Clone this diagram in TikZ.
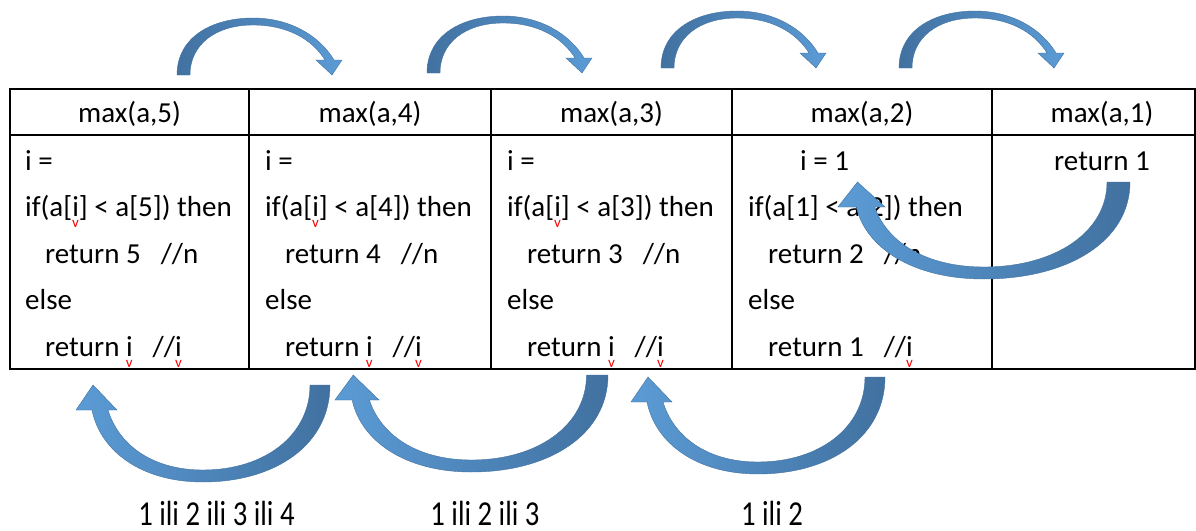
\documentclass[tikz,border=0pt]{standalone}
\usepackage{fontspec}
\usepackage{graphicx}
\setmainfont{Carlito}

\definecolor{arrowdark}{RGB}{65,113,160}
\definecolor{arrowlight}{RGB}{91,155,213}

% red spell-check mark under a word
\newsavebox\markbox
\newcommand\spellmark[1]{\sbox\markbox{#1}\rlap{\makebox[\wd\markbox]{\raisebox{-11pt}{\textcolor{red}{\fontsize{15}{15}\selectfont v}}}}\usebox\markbox}

\begin{document}
\begin{tikzpicture}[
    x=1pt,
    y=-1pt,
    font=\fontsize{29}{46.5}\selectfont,
    tabline/.style={draw, line width=1.5pt},
    head/.style={anchor=base, inner sep=0pt},
    code/.style={anchor=north west, align=left, inner sep=0pt},
    result/.style={anchor=base, inner sep=0pt, font=\fontsize{35}{35}\selectfont},
    toparrow/.style={left color=arrowdark, right color=arrowlight, draw=arrowdark, line width=0.4pt},
    backarrow/.style={left color=arrowlight, right color=arrowdark, draw=arrowdark, line width=0.4pt}
]
\useasboundingbox (0,0) rectangle (1196,530);

% ---------------- table ----------------
\draw[tabline] (10,89) rectangle (1195,369);
\draw[tabline] (10,135) -- (1195,135);
\foreach \x in {249,491,732,992}
    \draw[tabline] (\x,89) -- (\x,369);

% headers
\foreach \n/\x in {5/129.5, 4/370, 3/611.5, 2/862, 1/1102}
    \node[head] (h\n) at (\x,122) {max(a,\n)};

% bodies
\foreach \n/\x in {5/25, 4/265, 3/507}
    \node[code] (b\n) at (\x,137.5) {\strut i =\\
        if(a[\spellmark{i}] < a[\n]) then\\
        \hspace*{20pt}return \n\hspace{20pt}//n\\
        else\\
        \hspace*{20pt}return \spellmark{i}\hspace{20pt}//\spellmark{i}};

\node[code] (b2) at (748,137.5) {\strut\hspace*{52pt}i = 1\\
    if(a[1] < a[2]) then\\
    \hspace*{20pt}return 2\hspace{20pt}//n\\
    else\\
    \hspace*{20pt}return 1\hspace{20pt}//\spellmark{i}};
\node[head] (b1) at (1102,170) {return 1};

% ---------------- calls (top) ----------------
\foreach \x/\y in {177/75, 427/73, 661/68, 899/68}
    \draw[toparrow, shift={(\x,\y)}] (0,0) .. controls (0,-38) and (35,-57) .. (76,-57)
        .. controls (112,-57) and (142,-40) .. (157,-15) -- (165,-15) -- (155,0) -- (139,-15)
        -- (148,-15) .. controls (135,-36) and (110,-50) .. (76,-50)
        .. controls (38,-50) and (13,-30) .. (13,0) -- cycle;

% ---------------- returns (bottom) ----------------
\foreach \x/\y/\s in {330/385/1, 608/375/1.075, 885/377/1, 1130/182/1.15}
    \draw[backarrow, shift={(\x,\y)}, xscale=\s] (0,0) .. controls (0,60) and (-55,97) .. (-127,97)
        .. controls (-190,97) and (-230,65) .. (-238,25) -- (-254,25) -- (-237,0) -- (-213,25)
        -- (-222,25) .. controls (-212,58) and (-180,85) .. (-127,85)
        .. controls (-65,85) and (-20,50) .. (-20,0) -- cycle;

% returned values
\node[result] (l4) at (216.5,525) {\scalebox{0.82}[1]{1 ili 2 ili 3 ili 4}};
\node[result] (l3) at (485,525) {\scalebox{0.82}[1]{1 ili 2 ili 3}};
\node[result] (l2) at (772,525) {\scalebox{0.82}[1]{1 ili 2}};

\end{tikzpicture}
\end{document}
